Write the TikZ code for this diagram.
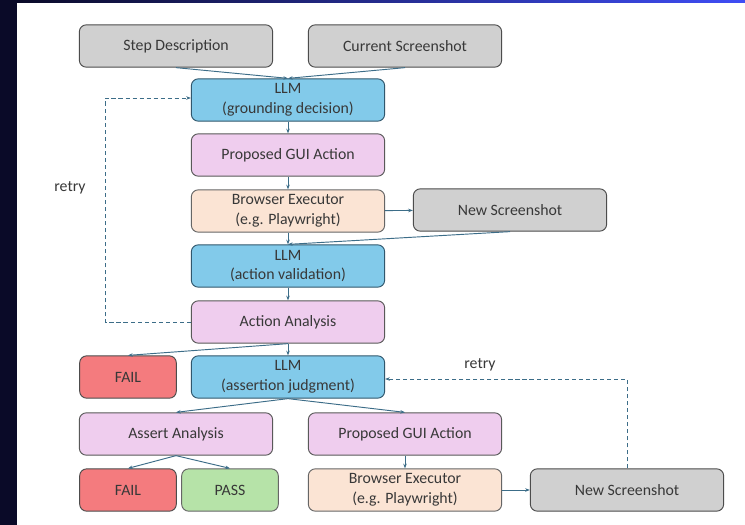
\documentclass[tikz,border=0pt]{standalone}
\usepackage{fontspec}
\setmainfont{Carlito}
\usepackage{xcolor}
\usetikzlibrary{arrows.meta, positioning, shapes.geometric}

\definecolor{navy}{HTML}{0A0A28}
\definecolor{topblue}{HTML}{3F4DF5}
\definecolor{greyfill}{HTML}{D0D0D0}
\definecolor{llmfill}{HTML}{82CAEA}
\definecolor{pinkfill}{HTML}{EFCDEE}
\definecolor{peachfill}{HTML}{FBE4D4}
\definecolor{failfill}{HTML}{F47B7E}
\definecolor{passfill}{HTML}{B6E3A8}
\definecolor{linecol}{HTML}{3C6D88}
\definecolor{txtcol}{HTML}{383838}

\begin{document}
\begin{tikzpicture}[x=0.03cm, y=-0.03cm,
    every node/.style={font=\fontsize{13.5}{17}\selectfont, text=txtcol, align=center},
    box/.style={draw, rounded corners=6pt, line width=0.8pt, minimum width=5.8cm, minimum height=1.27cm, inner sep=1pt},
    small/.style={box, minimum width=2.9cm},
    grey/.style={fill=greyfill, draw=black!70},
    llm/.style={fill=llmfill, draw=linecol!80!black},
    pink/.style={fill=pinkfill, draw=black!65},
    peach/.style={fill=peachfill, draw=black!60},
    failbox/.style={small, fill=failfill, draw=black!70},
    passbox/.style={small, fill=passfill, draw=black!60},
    arr/.style={-{Stealth[length=4pt, width=3pt]}, draw=linecol, line width=0.8pt},
    retryarr/.style={arr, dash pattern=on 3.5pt off 2.5pt}]

    % Background
    \fill[navy] (0,0) rectangle (745,525);
    \shade[left color=navy, right color=topblue] (17,0) rectangle (745,3);
    \fill[white] (17,3) rectangle (745,525);
    \useasboundingbox (0,0) rectangle (745,525);

    % Inputs
    \node[box, grey] (stepdesc) at (176,46) {Step Description};
    \node[box, grey] (curshot) at (405,46) {Current Screenshot};

    % Action loop
    \node[box, llm] (llmground) at (288,100) {LLM\\(grounding decision)};
    \node[box, pink] (propose) at (288,155) {Proposed GUI Action};
    \node[box, peach] (exec) at (288,211) {Browser Executor\\(e.g. Playwright)};
    \node[box, grey] (newshot) at (510,210) {New Screenshot};
    \node[box, llm] (llmvalid) at (288,266) {LLM\\(action validation)};
    \node[box, pink] (actana) at (288,322) {Action Analysis};

    % Assertion part
    \node[failbox] (failA) at (128,377) {FAIL};
    \node[box, llm] (llmassert) at (288,377) {LLM\\(assertion judgment)};
    \node[box, pink] (assertana) at (176,434) {Assert Analysis};
    \node[box, pink] (proposeB) at (405,434) {Proposed GUI Action};
    \node[failbox] (failB) at (128,490) {FAIL};
    \node[passbox] (pass) at (230,490) {PASS};
    \node[box, peach] (execB) at (405,490) {Browser Executor\\(e.g. Playwright)};
    \node[box, grey] (newshotB) at (627,490) {New Screenshot};

    % Connectors
    \draw[arr] (stepdesc.south) -- (llmground.north);
    \draw[arr] (curshot.south) -- (llmground.north);
    \draw[arr] (llmground) -- (propose);
    \draw[arr] (propose) -- (exec);
    \draw[arr] (exec) -- (newshot);
    \draw[arr] (exec) -- (llmvalid);
    \draw[arr] (newshot.south) -- (llmvalid.north);
    \draw[arr] (llmvalid) -- (actana);
    \draw[arr] (actana.south) -- (failA.north);
    \draw[arr] (actana) -- (llmassert);
    \draw[arr] (llmassert.south) -- (assertana.north);
    \draw[arr] (llmassert.south) -- (proposeB.north);
    \draw[arr] (assertana.south) -- (failB.north);
    \draw[arr] (assertana.south) -- (pass.north);
    \draw[arr] (proposeB) -- (execB);
    \draw[arr] (execB) -- (newshotB);

    % Retry loops
    \draw[retryarr] (actana.west) -| (105,98) -- (llmground.west |- 0,98);
    \node (retryA) at (70,188) {retry};
    \draw[retryarr] (newshotB.north) |- (llmassert.east |- 0,379);
    \node (retryB) at (480,365) {retry};
\end{tikzpicture}
\end{document}
